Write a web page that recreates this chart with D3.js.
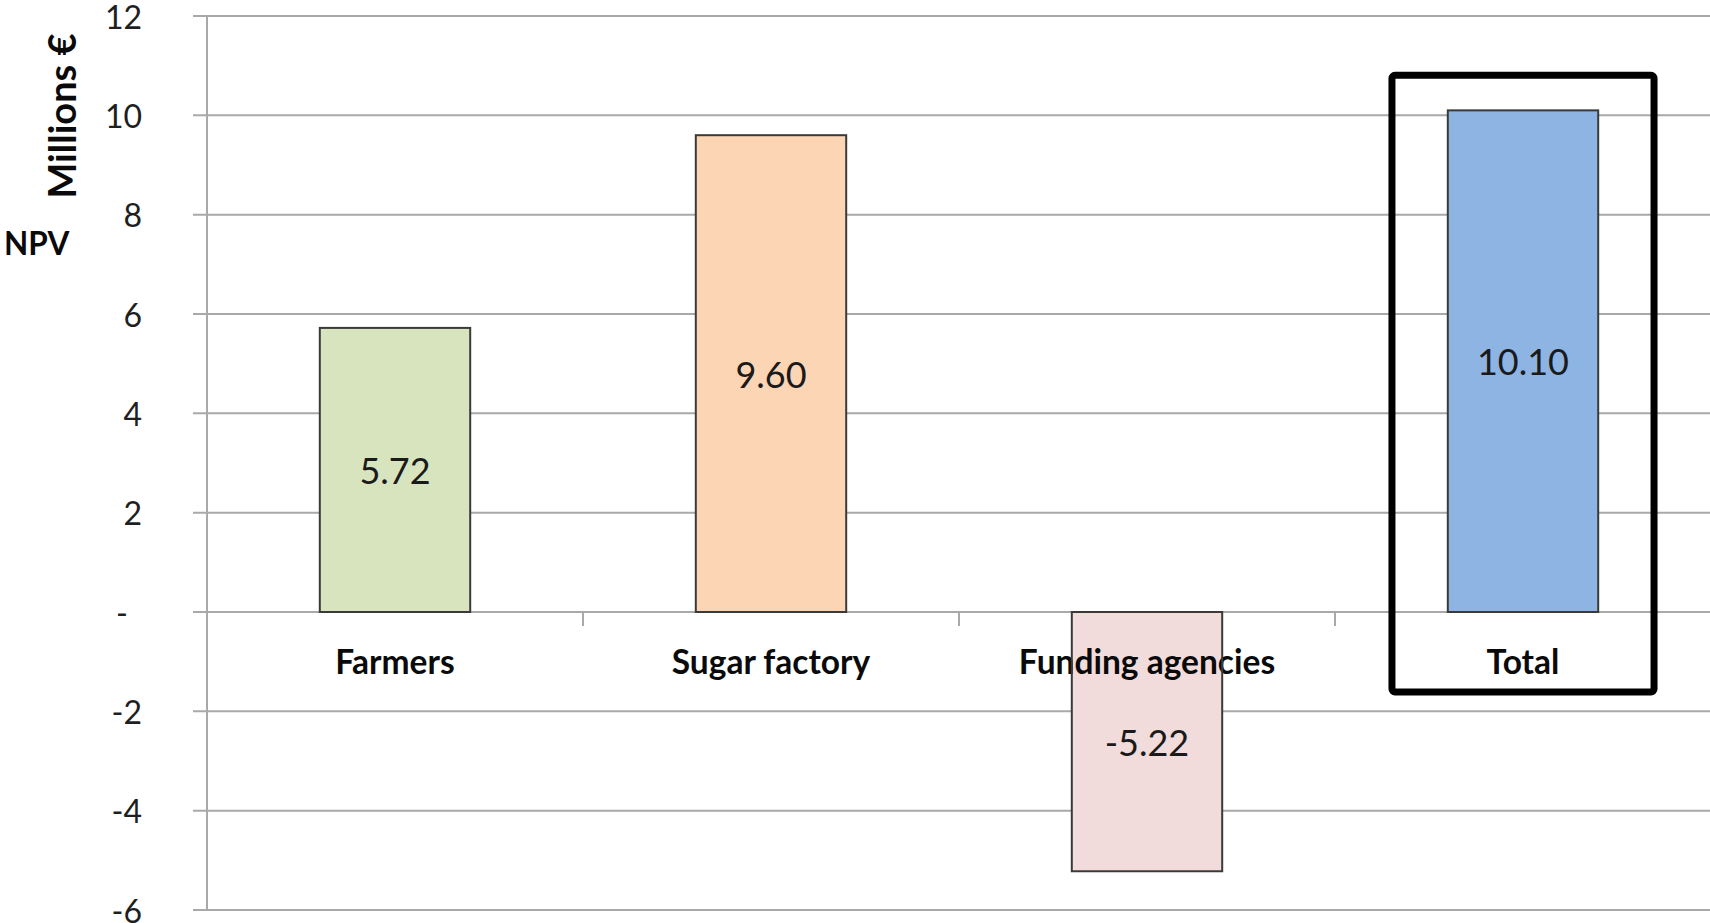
<!DOCTYPE html>
<html>
<head>
<meta charset="utf-8">
<script src="https://cdn.jsdelivr.net/npm/d3@7"></script>
<style>
  html, body { margin: 0; padding: 0; background: #ffffff; }
  svg { display: block; }
  text { font-family: Lato, "Open Sans", "Noto Sans", sans-serif; }
</style>
</head>
<body>
<svg id="chart" width="1710" height="923"></svg>
<script>
// ---- data ----
const categories = ["Farmers", "Sugar factory", "Funding agencies", "Total"];
const npvValues = [5.72, 9.60, -5.22, 10.10];
const valueLabels = ["5.72", "9.60", "-5.22", "10.10"];
const barColors = ["#d7e4bd", "#fcd5b5", "#f2dcdb", "#8eb4e3"];
const yTicks = [-6, -4, -2, 0, 2, 4, 6, 8, 10, 12];
const yTickLabels = ["-6", "-4", "-2", "-", "2", "4", "6", "8", "10", "12"];
const highlighted = "Total";

// ---- layout ----
const W = 1710, H = 923;
const plot = { left: 207, right: 1711, top: 16, bottom: 910 };
const svg = d3.select("#chart");

const x = d3.scaleBand().domain(categories).range([plot.left, plot.right]).padding(0);
const y = d3.scaleLinear().domain([-6, 12]).range([plot.bottom, plot.top]);
const barW = x.bandwidth() * 0.4;
const gridColor = "#a9a9a9";

// gridlines
svg.append("g").selectAll("line").data(yTicks).join("line")
  .attr("x1", plot.left - 14).attr("x2", W)
  .attr("y1", d => y(d)).attr("y2", d => y(d))
  .attr("stroke", gridColor).attr("stroke-width", 2);

// vertical axis line
svg.append("line")
  .attr("x1", plot.left).attr("x2", plot.left)
  .attr("y1", y(12)).attr("y2", y(-6))
  .attr("stroke", gridColor).attr("stroke-width", 2);

// category ticks on zero line
const bounds = categories.slice(1).map(c => x(c));
svg.append("g").selectAll("line").data(bounds).join("line")
  .attr("x1", d => d).attr("x2", d => d)
  .attr("y1", y(0)).attr("y2", y(0) + 14)
  .attr("stroke", gridColor).attr("stroke-width", 2);

// y tick labels
svg.append("g").selectAll("text").data(yTicks).join("text")
  .attr("x", d => d === 0 ? 128 : 142)
  .attr("y", d => y(d))
  .attr("text-anchor", "end")
  .attr("dominant-baseline", "central")
  .attr("font-size", 32)
  .attr("fill", "#1f1f1f")
  .text((d, i) => yTickLabels[i]);

// bars (fill)
const data = categories.map((c, i) => ({ c, v: npvValues[i], label: valueLabels[i], color: barColors[i] }));
svg.append("g").selectAll("rect").data(data).join("rect")
  .attr("x", d => x(d.c) + (x.bandwidth() - barW) / 2)
  .attr("width", barW)
  .attr("y", d => y(Math.max(0, d.v)))
  .attr("height", d => Math.abs(y(d.v) - y(0)))
  .attr("fill", d => d.color);

// category labels
svg.append("g").selectAll("text").data(categories).join("text")
  .attr("x", d => x(d) + x.bandwidth() / 2)
  .attr("y", y(0) + 49)
  .attr("text-anchor", "middle")
  .attr("dominant-baseline", "central")
  .attr("font-size", 33.5)
  .attr("font-weight", "bold")
  .attr("fill", "#0a0a0a")
  .text(d => d);

// bar outlines
svg.append("g").selectAll("rect").data(data).join("rect")
  .attr("x", d => x(d.c) + (x.bandwidth() - barW) / 2)
  .attr("width", barW)
  .attr("y", d => y(Math.max(0, d.v)))
  .attr("height", d => Math.abs(y(d.v) - y(0)))
  .attr("fill", "none")
  .attr("stroke", "#3a3a3a")
  .attr("stroke-width", 2);

// value labels
svg.append("g").selectAll("text").data(data).join("text")
  .attr("x", d => x(d.c) + x.bandwidth() / 2)
  .attr("y", d => (y(d.v) + y(0)) / 2)
  .attr("text-anchor", "middle")
  .attr("dominant-baseline", "central")
  .attr("font-size", 36)
  .attr("fill", "#1a1a1a")
  .text(d => d.label);

// highlight box around Total
const hx = x(highlighted) + x.bandwidth() / 2;
const hw = x.bandwidth() * 0.697;
const hv = npvValues[categories.indexOf(highlighted)];
svg.append("rect")
  .attr("x", hx - hw / 2)
  .attr("width", hw)
  .attr("y", y(hv) - 35)
  .attr("height", (y(0) + 80) - (y(hv) - 35))
  .attr("rx", 3)
  .attr("fill", "none")
  .attr("stroke", "#000")
  .attr("stroke-width", 7);

// axis titles
svg.append("text")
  .attr("transform", "translate(61,116) rotate(-90)")
  .attr("text-anchor", "middle")
  .attr("dominant-baseline", "central")
  .attr("font-size", 38)
  .attr("font-weight", "bold")
  .attr("fill", "#0a0a0a")
  .text("Millions €");

svg.append("text")
  .attr("x", 4).attr("y", 243)
  .attr("dominant-baseline", "central")
  .attr("font-size", 31.5)
  .attr("font-weight", "bold")
  .attr("fill", "#0a0a0a")
  .text("NPV");
</script>
</body>
</html>
